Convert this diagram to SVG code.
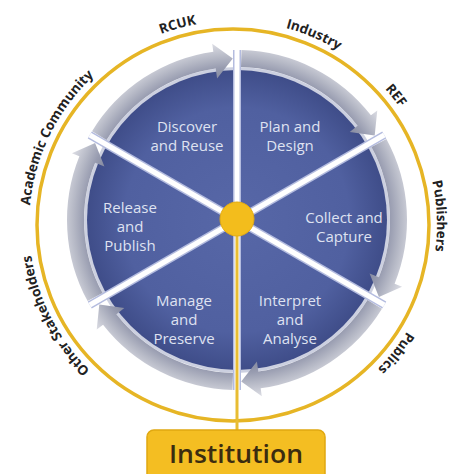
<svg xmlns="http://www.w3.org/2000/svg" xmlns:xlink="http://www.w3.org/1999/xlink" width="453" height="474" viewBox="0 0 453 474">
<style>
.lbl{font-family:"Open Sans","Liberation Sans",sans-serif;font-size:15px;fill:#dfe2f1;text-anchor:middle}
.out{font-family:"Open Sans","Liberation Sans",sans-serif;font-size:13.5px;font-weight:700;fill:#222}
.sep{stroke:#ffffff;stroke-width:5;stroke-linecap:butt}
.sepEdge{stroke:#b4bcdf;stroke-width:8}
</style>
<defs>
<radialGradient id="blue" gradientUnits="userSpaceOnUse" cx="237" cy="220" r="150">
<stop offset="0" stop-color="#5767a7"/>
<stop offset="0.75" stop-color="#5060a0"/>
<stop offset="1" stop-color="#3f4d89"/>
</radialGradient>
<radialGradient id="band" gradientUnits="userSpaceOnUse" cx="237" cy="220" r="178">
<stop offset="0.80" stop-color="#858aa0"/>
<stop offset="0.86" stop-color="#989cb0"/>
<stop offset="0.92" stop-color="#b6b9c6"/>
<stop offset="1" stop-color="#dcdde4"/>
</radialGradient>
<path id="arrow" d="M241.45 50.06 A170 170 0 0 1 370.96 115.34 L377.27 110.41 L374.70 135.62 L349.69 131.96 L357.57 125.80 A153 153 0 0 0 241.01 67.05 Z" fill="url(#band)"/>
<path id="ringPath" d="M233 429 A204 204 0 0 1 29 225 A204 204 0 0 1 233 21 A204 204 0 0 1 437 225 A204 204 0 0 1 233 429" fill="none"/>
</defs>
<rect width="453" height="474" fill="#ffffff"/>
<g id="ring">
<circle cx="233" cy="225" r="196" fill="none" stroke="#e6b525" stroke-width="3.5"/>
</g>
<g id="stakeholders">
<text class="out"><textPath xlink:href="#ringPath" href="#ringPath" startOffset="45.7%" text-anchor="middle">RCUK</textPath></text>
<text class="out"><textPath xlink:href="#ringPath" href="#ringPath" startOffset="56.4%" text-anchor="middle">Industry</textPath></text>
<text class="out"><textPath xlink:href="#ringPath" href="#ringPath" startOffset="64.3%" text-anchor="middle">REF</textPath></text>
<text class="out"><textPath xlink:href="#ringPath" href="#ringPath" startOffset="74.3%" text-anchor="middle">Publishers</textPath></text>
<text class="out"><textPath xlink:href="#ringPath" href="#ringPath" startOffset="85.6%" text-anchor="middle">Publics</textPath></text>
<text class="out"><textPath xlink:href="#ringPath" href="#ringPath" startOffset="17.5%" text-anchor="middle">Other Stakeholders</textPath></text>
<text class="out"><textPath xlink:href="#ringPath" href="#ringPath" startOffset="32.3%" text-anchor="middle">Academic Community</textPath></text>
</g>
<g id="wheel">
<circle cx="237" cy="220" r="153" fill="#ccd0e0"/>
<circle cx="237" cy="220" r="150" fill="url(#blue)"/>
</g>
<g id="connectors">
<g transform="rotate(0 237 220)"><line class="sepEdge" x1="237" y1="220" x2="237" y2="50"/><line class="sep" x1="237" y1="220" x2="237" y2="50"/></g>
<g transform="rotate(60 237 220)"><line class="sepEdge" x1="237" y1="220" x2="237" y2="50"/><line class="sep" x1="237" y1="220" x2="237" y2="50"/></g>
<g transform="rotate(120 237 220)"><line class="sepEdge" x1="237" y1="220" x2="237" y2="50"/><line class="sep" x1="237" y1="220" x2="237" y2="50"/></g>
<g transform="rotate(180 237 220)"><line class="sepEdge" x1="237" y1="220" x2="237" y2="50"/><line class="sep" x1="237" y1="220" x2="237" y2="50"/></g>
<g transform="rotate(240 237 220)"><line class="sepEdge" x1="237" y1="220" x2="237" y2="50"/><line class="sep" x1="237" y1="220" x2="237" y2="50"/></g>
<g transform="rotate(300 237 220)"><line class="sepEdge" x1="237" y1="220" x2="237" y2="50"/><line class="sep" x1="237" y1="220" x2="237" y2="50"/></g>
<line x1="237" y1="230" x2="237" y2="432" stroke="#e8bd33" stroke-width="3"/>
</g>
<g id="arrows">
<use xlink:href="#arrow" href="#arrow"/>
<use xlink:href="#arrow" href="#arrow" transform="rotate(60 237 220)"/>
<use xlink:href="#arrow" href="#arrow" transform="rotate(120 237 220)"/>
<use xlink:href="#arrow" href="#arrow" transform="rotate(180 237 220)"/>
<use xlink:href="#arrow" href="#arrow" transform="rotate(240 237 220)"/>
<use xlink:href="#arrow" href="#arrow" transform="rotate(300 237 220)"/>
</g>
<g id="hub">
<circle cx="237" cy="219" r="17" fill="#f3bd1c" stroke="#e4ab12" stroke-width="1"/>
</g>
<g id="discover"><text class="lbl" x="187" y="132">Discover</text><text class="lbl" x="187" y="151">and Reuse</text></g>
<g id="plan"><text class="lbl" x="290" y="132">Plan and</text><text class="lbl" x="290" y="151">Design</text></g>
<g id="collect"><text class="lbl" x="344" y="223">Collect and</text><text class="lbl" x="344" y="242">Capture</text></g>
<g id="interpret"><text class="lbl" x="290" y="306">Interpret</text><text class="lbl" x="290" y="325">and</text><text class="lbl" x="290" y="344">Analyse</text></g>
<g id="manage"><text class="lbl" x="184" y="306">Manage</text><text class="lbl" x="184" y="325">and</text><text class="lbl" x="184" y="344">Preserve</text></g>
<g id="release"><text class="lbl" x="130" y="213">Release</text><text class="lbl" x="130" y="232">and</text><text class="lbl" x="130" y="251">Publish</text></g>
<g id="institution">
<rect x="147" y="430" width="178" height="60" rx="7" fill="#f4be22" stroke="#e0a810" stroke-width="1.5"/>
<text x="236" y="463" font-family="Open Sans, Liberation Sans, sans-serif" font-size="26" font-weight="600" fill="#3b2c10" text-anchor="middle" textLength="134" lengthAdjust="spacingAndGlyphs">Institution</text>
</g>
</svg>
